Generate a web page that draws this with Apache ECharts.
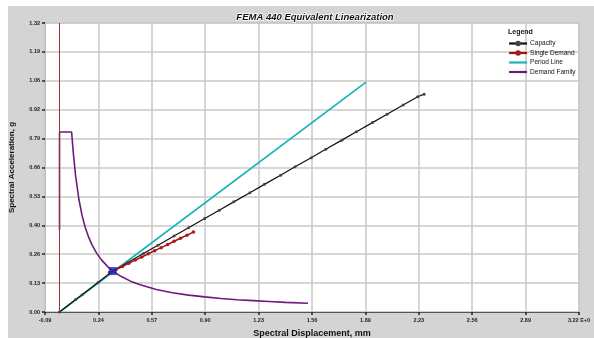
<!DOCTYPE html>
<html>
<head>
<meta charset="utf-8">
<script src="https://cdn.jsdelivr.net/npm/echarts@6/dist/echarts.min.js"></script>
<style>
  body { margin:0; background:#fff; width:594px; height:338px; overflow:hidden; position:relative; }
  #chart { position:absolute; left:8px; top:6px; width:586px; height:332px; background:#d4d4d4; }
</style>
</head>
<body>
<div id="chart"></div>
<script>
// tick labels of the displacement axis (as printed)
var xTickLabels = ['-0.09', '0.24', '0.57', '0.90', '1.23', '1.56', '1.89', '2.23', '2.56', '2.89', '3.22 E+0'];

// capacity spectrum [Sd, Sa]
var capacity = [
  [0, 0], [0.10, 0.057], [0.14, 0.079], [0.24, 0.136], [0.33, 0.187], [0.42, 0.225],
  [0.52, 0.267], [0.61, 0.305], [0.71, 0.347], [0.80, 0.385], [0.90, 0.427],
  [0.99, 0.465], [1.08, 0.503], [1.18, 0.545], [1.27, 0.583], [1.37, 0.625],
  [1.46, 0.663], [1.56, 0.705], [1.65, 0.743], [1.75, 0.785], [1.84, 0.823],
  [1.94, 0.865], [2.03, 0.903], [2.13, 0.945], [2.22, 0.983], [2.26, 0.995]
];

// single demand
var singleDemand = [
  [0.31, 0.180], [0.35, 0.194], [0.39, 0.208], [0.43, 0.223], [0.47, 0.237],
  [0.51, 0.251], [0.55, 0.266], [0.59, 0.280], [0.63, 0.294], [0.67, 0.308],
  [0.71, 0.323], [0.75, 0.337], [0.79, 0.351], [0.83, 0.365]
];

// period line
var periodLine = [[0, 0], [1.90, 1.05]];

// demand family spectrum
var demandFamily = [
  [0, 0.375], [0, 0.822], [0.075, 0.822], [0.085, 0.73], [0.10, 0.62], [0.12, 0.515],
  [0.14, 0.44], [0.16, 0.385], [0.18, 0.343], [0.20, 0.309], [0.23, 0.269],
  [0.26, 0.238], [0.30, 0.206], [0.33, 0.187], [0.38, 0.163], [0.44, 0.141],
  [0.50, 0.124], [0.60, 0.103], [0.70, 0.088], [0.80, 0.077], [0.90, 0.069],
  [1.00, 0.062], [1.10, 0.056], [1.20, 0.052], [1.30, 0.048], [1.40, 0.044], [1.54, 0.040]
];

// performance point
var perfPoint = [[0.33, 0.187]];

var font = 'Arial, "Liberation Sans", sans-serif';
var myChart = echarts.init(document.getElementById('chart'));
var option = {
  animation: false,
  textStyle: { fontFamily: font },
  title: [
    {
      text: 'FEMA 440 Equivalent Linearization',
      left: 302, top: 1, textAlign: 'center',
      textStyle: { fontSize: 9.5, fontWeight: 'bold', fontStyle: 'italic', color: '#111',
        textBorderColor: '#fff', textBorderWidth: 1.5, fontFamily: font }
    },
    {
      text: 'Legend',
      left: 495, top: 18,
      textStyle: { fontSize: 7, fontWeight: 'bold', color: '#111', fontFamily: font }
    }
  ],
  legend: {
    orient: 'vertical',
    left: 495, top: 29,
    itemWidth: 18, itemHeight: 7, itemGap: 2.5,
    lineStyle: { width: 2.2 },
    textStyle: { fontSize: 6.5, color: '#111', fontFamily: font, padding: [0, 0, 0, -2] },
    data: [
      'Capacity',
      'Single Demand',
      { name: 'Period Line', itemStyle: { opacity: 0 } },
      { name: 'Demand Family', itemStyle: { opacity: 0 } }
    ]
  },
  grid: {
    left: 37, right: 15, top: 17, bottom: 26,
    outerBoundsMode: 'none',
    show: true, backgroundColor: '#fff', borderColor: '#bdbdbd', borderWidth: 1
  },
  xAxis: [
    {
      type: 'value', min: 0, max: 10, interval: 1,
      name: 'Spectral Displacement, mm', nameLocation: 'middle', nameGap: 17,
      nameTextStyle: { fontSize: 9, fontWeight: 'bold', color: '#111', fontFamily: font },
      axisLine: { show: true, onZero: false, lineStyle: { color: '#555', width: 1 } },
      axisTick: { show: true, length: 3, lineStyle: { color: '#222', width: 1.5 } },
      axisLabel: { fontSize: 5.5, fontWeight: 'bold', color: '#222', margin: 5,
        formatter: function (v) { return xTickLabels[Math.round(v)]; } },
      splitLine: { show: true, lineStyle: { color: '#c9c9c9', width: 1.5 } }
    },
    { type: 'value', min: -0.09, max: 3.22, show: false }
  ],
  yAxis: {
    type: 'value', min: 0, max: 1.32, interval: 0.132,
    name: 'Spectral Acceleration, g', nameLocation: 'middle', nameGap: 29,
    nameTextStyle: { fontSize: 8, fontWeight: 'bold', color: '#111', fontFamily: font },
    axisLine: { show: true, onZero: false, lineStyle: { color: '#bdbdbd' } },
    axisTick: { show: true, length: 3, lineStyle: { color: '#222', width: 1.5 } },
    axisLabel: { fontSize: 5.5, fontWeight: 'bold', color: '#222', margin: 5,
      formatter: function (v) { return v.toFixed(2); } },
    splitLine: { show: true, lineStyle: { color: '#c9c9c9', width: 1.5 } }
  },
  series: [
    {
      name: 'Period Line', type: 'line', xAxisIndex: 1, data: periodLine,
      symbol: 'none', color: '#1fb3b3', lineStyle: { width: 1.8, color: '#1fb3b3' },
      z: 3,
      markLine: {
        silent: true, symbol: 'none', label: { show: false },
        lineStyle: { color: '#9a3030', width: 1, type: 'solid' },
        data: [{ xAxis: 0 }]
      }
    },
    {
      name: 'Capacity', type: 'line', xAxisIndex: 1, data: capacity,
      symbol: 'circle', symbolSize: 3, showSymbol: true, color: '#222',
      itemStyle: { color: '#444' }, lineStyle: { width: 1.2, color: '#111' }, z: 4
    },
    {
      name: 'Single Demand', type: 'line', xAxisIndex: 1, data: singleDemand,
      symbol: 'circle', symbolSize: 3.5, color: '#b01818',
      itemStyle: { color: '#b01818' }, lineStyle: { width: 1.5, color: '#a01010' }, z: 5
    },
    {
      name: 'Demand Family', type: 'line', xAxisIndex: 1, data: demandFamily,
      symbol: 'none', color: '#7a1a86', lineStyle: { width: 1.6, color: '#6e1a7c' }, z: 4
    },
    {
      name: 'Performance Point', type: 'scatter', xAxisIndex: 1, data: perfPoint,
      symbol: 'rect', symbolSize: 8, itemStyle: { color: '#1a22b8' }, z: 6
    }
  ]
};
myChart.setOption(option);
</script>
</body>
</html>
